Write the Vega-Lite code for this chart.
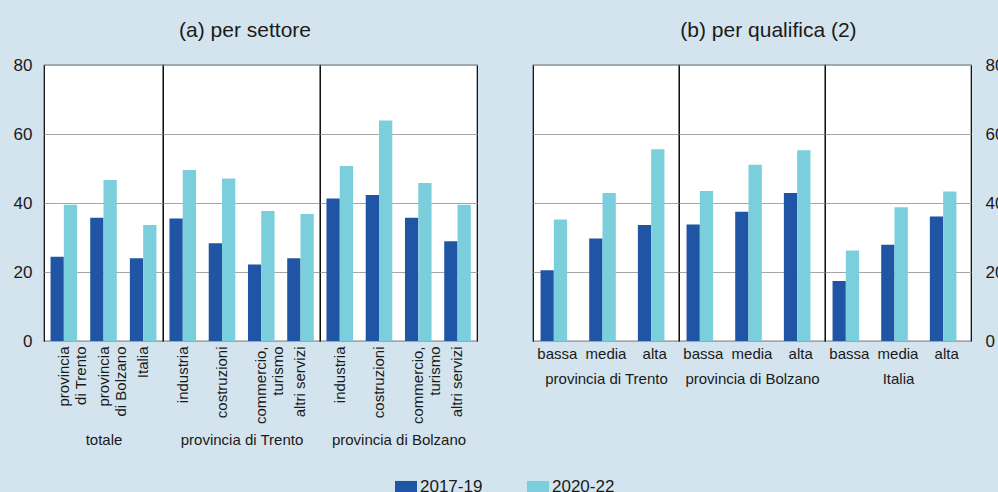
{
  "$schema": "https://vega.github.io/schema/vega-lite/v6.json",
  "background": "#d3e4ee",
  "padding": {"left": 12, "top": 20, "right": 0, "bottom": 0},
  "config": {
    "font": "Liberation Sans",
    "view": {"fill": "white", "stroke": "black", "strokeWidth": 1.2},
    "axis": {"labelFont": "Liberation Sans", "titleFont": "Liberation Sans", "labelColor": "#1a1a1a", "titleColor": "#1a1a1a", "gridColor": "#a6a6a6", "gridWidth": 1, "gridOpacity": 1, "domain": false, "ticks": false, "titleFontWeight": "normal"},
    "title": {"fontSize": 21, "fontWeight": "normal", "color": "#1a1a1a", "anchor": "middle", "font": "Liberation Sans"},
    "legend": {"labelFont": "Liberation Sans", "labelColor": "#1a1a1a"}
  },
  "data": {"values": [
    {"panel": "a", "group": "totale", "cat": "provincia|di Trento", "series": "2017-19", "value": 24.4},
    {"panel": "a", "group": "totale", "cat": "provincia|di Trento", "series": "2020-22", "value": 39.5},
    {"panel": "a", "group": "totale", "cat": "provincia|di Bolzano", "series": "2017-19", "value": 35.7},
    {"panel": "a", "group": "totale", "cat": "provincia|di Bolzano", "series": "2020-22", "value": 46.7},
    {"panel": "a", "group": "totale", "cat": "Italia", "series": "2017-19", "value": 24.0},
    {"panel": "a", "group": "totale", "cat": "Italia", "series": "2020-22", "value": 33.6},
    {"panel": "a", "group": "provincia di Trento", "cat": "industria", "series": "2017-19", "value": 35.5},
    {"panel": "a", "group": "provincia di Trento", "cat": "industria", "series": "2020-22", "value": 49.6},
    {"panel": "a", "group": "provincia di Trento", "cat": "costruzioni", "series": "2017-19", "value": 28.3},
    {"panel": "a", "group": "provincia di Trento", "cat": "costruzioni", "series": "2020-22", "value": 47.1},
    {"panel": "a", "group": "provincia di Trento", "cat": "commercio,|turismo", "series": "2017-19", "value": 22.2},
    {"panel": "a", "group": "provincia di Trento", "cat": "commercio,|turismo", "series": "2020-22", "value": 37.7},
    {"panel": "a", "group": "provincia di Trento", "cat": "altri servizi", "series": "2017-19", "value": 24.0},
    {"panel": "a", "group": "provincia di Trento", "cat": "altri servizi", "series": "2020-22", "value": 36.8},
    {"panel": "a", "group": "provincia di Bolzano", "cat": "industria", "series": "2017-19", "value": 41.3},
    {"panel": "a", "group": "provincia di Bolzano", "cat": "industria", "series": "2020-22", "value": 50.7},
    {"panel": "a", "group": "provincia di Bolzano", "cat": "costruzioni", "series": "2017-19", "value": 42.3},
    {"panel": "a", "group": "provincia di Bolzano", "cat": "costruzioni", "series": "2020-22", "value": 63.9},
    {"panel": "a", "group": "provincia di Bolzano", "cat": "commercio,|turismo", "series": "2017-19", "value": 35.7},
    {"panel": "a", "group": "provincia di Bolzano", "cat": "commercio,|turismo", "series": "2020-22", "value": 45.8},
    {"panel": "a", "group": "provincia di Bolzano", "cat": "altri servizi", "series": "2017-19", "value": 28.9},
    {"panel": "a", "group": "provincia di Bolzano", "cat": "altri servizi", "series": "2020-22", "value": 39.5},
    {"panel": "b", "group": "provincia di Trento", "cat": "bassa", "series": "2017-19", "value": 20.5},
    {"panel": "b", "group": "provincia di Trento", "cat": "bassa", "series": "2020-22", "value": 35.2},
    {"panel": "b", "group": "provincia di Trento", "cat": "media", "series": "2017-19", "value": 29.7},
    {"panel": "b", "group": "provincia di Trento", "cat": "media", "series": "2020-22", "value": 42.9},
    {"panel": "b", "group": "provincia di Trento", "cat": "alta", "series": "2017-19", "value": 33.6},
    {"panel": "b", "group": "provincia di Trento", "cat": "alta", "series": "2020-22", "value": 55.6},
    {"panel": "b", "group": "provincia di Bolzano", "cat": "bassa", "series": "2017-19", "value": 33.8},
    {"panel": "b", "group": "provincia di Bolzano", "cat": "bassa", "series": "2020-22", "value": 43.5},
    {"panel": "b", "group": "provincia di Bolzano", "cat": "media", "series": "2017-19", "value": 37.5},
    {"panel": "b", "group": "provincia di Bolzano", "cat": "media", "series": "2020-22", "value": 51.1},
    {"panel": "b", "group": "provincia di Bolzano", "cat": "alta", "series": "2017-19", "value": 42.9},
    {"panel": "b", "group": "provincia di Bolzano", "cat": "alta", "series": "2020-22", "value": 55.3},
    {"panel": "b", "group": "Italia", "cat": "bassa", "series": "2017-19", "value": 17.4},
    {"panel": "b", "group": "Italia", "cat": "bassa", "series": "2020-22", "value": 26.2},
    {"panel": "b", "group": "Italia", "cat": "media", "series": "2017-19", "value": 27.9},
    {"panel": "b", "group": "Italia", "cat": "media", "series": "2020-22", "value": 38.8},
    {"panel": "b", "group": "Italia", "cat": "alta", "series": "2017-19", "value": 36.1},
    {"panel": "b", "group": "Italia", "cat": "alta", "series": "2020-22", "value": 43.3}
  ]},
  "spacing": 54,
  "hconcat": [
    {
      "title": {"text": "(a) per settore", "offset": 14},
      "spacing": 0,
      "bounds": "flush",
      "hconcat": [
        {
          "width": 119, "height": 276,
          "transform": [{"filter": "datum.panel == 'a' && datum.group == 'totale'"}],
          "mark": "bar",
          "encoding": {
            "x": {"field": "cat", "type": "nominal", "sort": null, "scale": {"paddingInner": 0.33, "paddingOuter": 0.165},
                  "axis": {"title": "totale", "labelAngle": -90, "labelExpr": "split(datum.label, '|')", "labelFontSize": 15, "labelLineHeight": 17, "labelPadding": 5, "titleFontSize": 15, "titleY": 98, "titleBaseline": "middle"}},
            "xOffset": {"field": "series", "type": "nominal", "scale": {"paddingInner": 0, "paddingOuter": 0}},
            "y": {"field": "value", "type": "quantitative", "scale": {"domain": [0, 80]},
                  "axis": {"title": null, "values": [0, 20, 40, 60, 80], "labelFontSize": 17, "labelPadding": 12, "grid": true}},
            "color": {"field": "series", "type": "nominal", "scale": {"domain": ["2017-19", "2020-22"], "range": ["#1f55a4", "#7bcfdc"]},
                      "legend": {"orient": "none", "legendX": 351, "legendY": 411, "direction": "horizontal", "title": null, "labelFontSize": 17, "symbolType": "M-1,-0.55H1V0.55H-1Z", "symbolSize": 484, "symbolStrokeWidth": 0, "labelOffset": 3, "columnPadding": 44}}
          }
        },
        {
          "width": 157, "height": 276,
          "transform": [{"filter": "datum.panel == 'a' && datum.group == 'provincia di Trento'"}],
          "mark": "bar",
          "encoding": {
            "x": {"field": "cat", "type": "nominal", "sort": null, "scale": {"paddingInner": 0.33, "paddingOuter": 0.165},
                  "axis": {"title": "provincia di Trento", "labelAngle": -90, "labelExpr": "split(datum.label, '|')", "labelFontSize": 15, "labelLineHeight": 17, "labelPadding": 5, "titleFontSize": 15, "titleY": 98, "titleBaseline": "middle"}},
            "xOffset": {"field": "series", "type": "nominal", "scale": {"paddingInner": 0, "paddingOuter": 0}},
            "y": {"field": "value", "type": "quantitative", "scale": {"domain": [0, 80]},
                  "axis": {"title": null, "values": [0, 20, 40, 60, 80], "labels": false, "grid": true}},
            "color": {"field": "series", "type": "nominal", "scale": {"domain": ["2017-19", "2020-22"], "range": ["#1f55a4", "#7bcfdc"]},
                      "legend": {"orient": "none", "legendX": 351, "legendY": 411, "direction": "horizontal", "title": null, "labelFontSize": 17, "symbolType": "M-1,-0.55H1V0.55H-1Z", "symbolSize": 484, "symbolStrokeWidth": 0, "labelOffset": 3, "columnPadding": 44}}
          }
        },
        {
          "width": 157, "height": 276,
          "transform": [{"filter": "datum.panel == 'a' && datum.group == 'provincia di Bolzano'"}],
          "mark": "bar",
          "encoding": {
            "x": {"field": "cat", "type": "nominal", "sort": null, "scale": {"paddingInner": 0.33, "paddingOuter": 0.165},
                  "axis": {"title": "provincia di Bolzano", "labelAngle": -90, "labelExpr": "split(datum.label, '|')", "labelFontSize": 15, "labelLineHeight": 17, "labelPadding": 5, "titleFontSize": 15, "titleY": 98, "titleBaseline": "middle"}},
            "xOffset": {"field": "series", "type": "nominal", "scale": {"paddingInner": 0, "paddingOuter": 0}},
            "y": {"field": "value", "type": "quantitative", "scale": {"domain": [0, 80]},
                  "axis": {"title": null, "values": [0, 20, 40, 60, 80], "labels": false, "grid": true}},
            "color": {"field": "series", "type": "nominal", "scale": {"domain": ["2017-19", "2020-22"], "range": ["#1f55a4", "#7bcfdc"]},
                      "legend": {"orient": "none", "legendX": 351, "legendY": 411, "direction": "horizontal", "title": null, "labelFontSize": 17, "symbolType": "M-1,-0.55H1V0.55H-1Z", "symbolSize": 484, "symbolStrokeWidth": 0, "labelOffset": 3, "columnPadding": 44}}
          }
        }
      ]
    },
    {
      "title": {"text": "(b) per qualifica (2)", "offset": 14},
      "spacing": 0,
      "bounds": "flush",
      "hconcat": [
        {
          "width": 146, "height": 276,
          "transform": [{"filter": "datum.panel == 'b' && datum.group == 'provincia di Trento'"}],
          "mark": "bar",
          "encoding": {
            "x": {"field": "cat", "type": "nominal", "sort": null, "scale": {"paddingInner": 0.31, "paddingOuter": 0.155},
                  "axis": {"title": "provincia di Trento", "labelAngle": 0, "labelFontSize": 15, "labelPadding": 5, "titleFontSize": 15, "titleY": 37, "titleBaseline": "middle"}},
            "xOffset": {"field": "series", "type": "nominal", "scale": {"paddingInner": 0, "paddingOuter": 0}},
            "y": {"field": "value", "type": "quantitative", "scale": {"domain": [0, 80]},
                  "axis": {"title": null, "values": [0, 20, 40, 60, 80], "labels": false, "grid": true}},
            "color": {"field": "series", "type": "nominal", "scale": {"domain": ["2017-19", "2020-22"], "range": ["#1f55a4", "#7bcfdc"]},
                      "legend": {"orient": "none", "legendX": 351, "legendY": 411, "direction": "horizontal", "title": null, "labelFontSize": 17, "symbolType": "M-1,-0.55H1V0.55H-1Z", "symbolSize": 484, "symbolStrokeWidth": 0, "labelOffset": 3, "columnPadding": 44}}
          }
        },
        {
          "width": 146, "height": 276,
          "transform": [{"filter": "datum.panel == 'b' && datum.group == 'provincia di Bolzano'"}],
          "mark": "bar",
          "encoding": {
            "x": {"field": "cat", "type": "nominal", "sort": null, "scale": {"paddingInner": 0.31, "paddingOuter": 0.155},
                  "axis": {"title": "provincia di Bolzano", "labelAngle": 0, "labelFontSize": 15, "labelPadding": 5, "titleFontSize": 15, "titleY": 37, "titleBaseline": "middle"}},
            "xOffset": {"field": "series", "type": "nominal", "scale": {"paddingInner": 0, "paddingOuter": 0}},
            "y": {"field": "value", "type": "quantitative", "scale": {"domain": [0, 80]},
                  "axis": {"title": null, "values": [0, 20, 40, 60, 80], "labels": false, "grid": true}},
            "color": {"field": "series", "type": "nominal", "scale": {"domain": ["2017-19", "2020-22"], "range": ["#1f55a4", "#7bcfdc"]},
                      "legend": {"orient": "none", "legendX": 351, "legendY": 411, "direction": "horizontal", "title": null, "labelFontSize": 17, "symbolType": "M-1,-0.55H1V0.55H-1Z", "symbolSize": 484, "symbolStrokeWidth": 0, "labelOffset": 3, "columnPadding": 44}}
          }
        },
        {
          "width": 146, "height": 276,
          "transform": [{"filter": "datum.panel == 'b' && datum.group == 'Italia'"}],
          "mark": "bar",
          "encoding": {
            "x": {"field": "cat", "type": "nominal", "sort": null, "scale": {"paddingInner": 0.31, "paddingOuter": 0.155},
                  "axis": {"title": "Italia", "labelAngle": 0, "labelFontSize": 15, "labelPadding": 5, "titleFontSize": 15, "titleY": 37, "titleBaseline": "middle"}},
            "xOffset": {"field": "series", "type": "nominal", "scale": {"paddingInner": 0, "paddingOuter": 0}},
            "y": {"field": "value", "type": "quantitative", "scale": {"domain": [0, 80]},
                  "axis": {"title": null, "orient": "right", "values": [0, 20, 40, 60, 80], "labelFontSize": 17, "labelPadding": 14, "grid": true}},
            "color": {"field": "series", "type": "nominal", "scale": {"domain": ["2017-19", "2020-22"], "range": ["#1f55a4", "#7bcfdc"]},
                      "legend": {"orient": "none", "legendX": 351, "legendY": 411, "direction": "horizontal", "title": null, "labelFontSize": 17, "symbolType": "M-1,-0.55H1V0.55H-1Z", "symbolSize": 484, "symbolStrokeWidth": 0, "labelOffset": 3, "columnPadding": 44}}
          }
        }
      ]
    }
  ]
}
